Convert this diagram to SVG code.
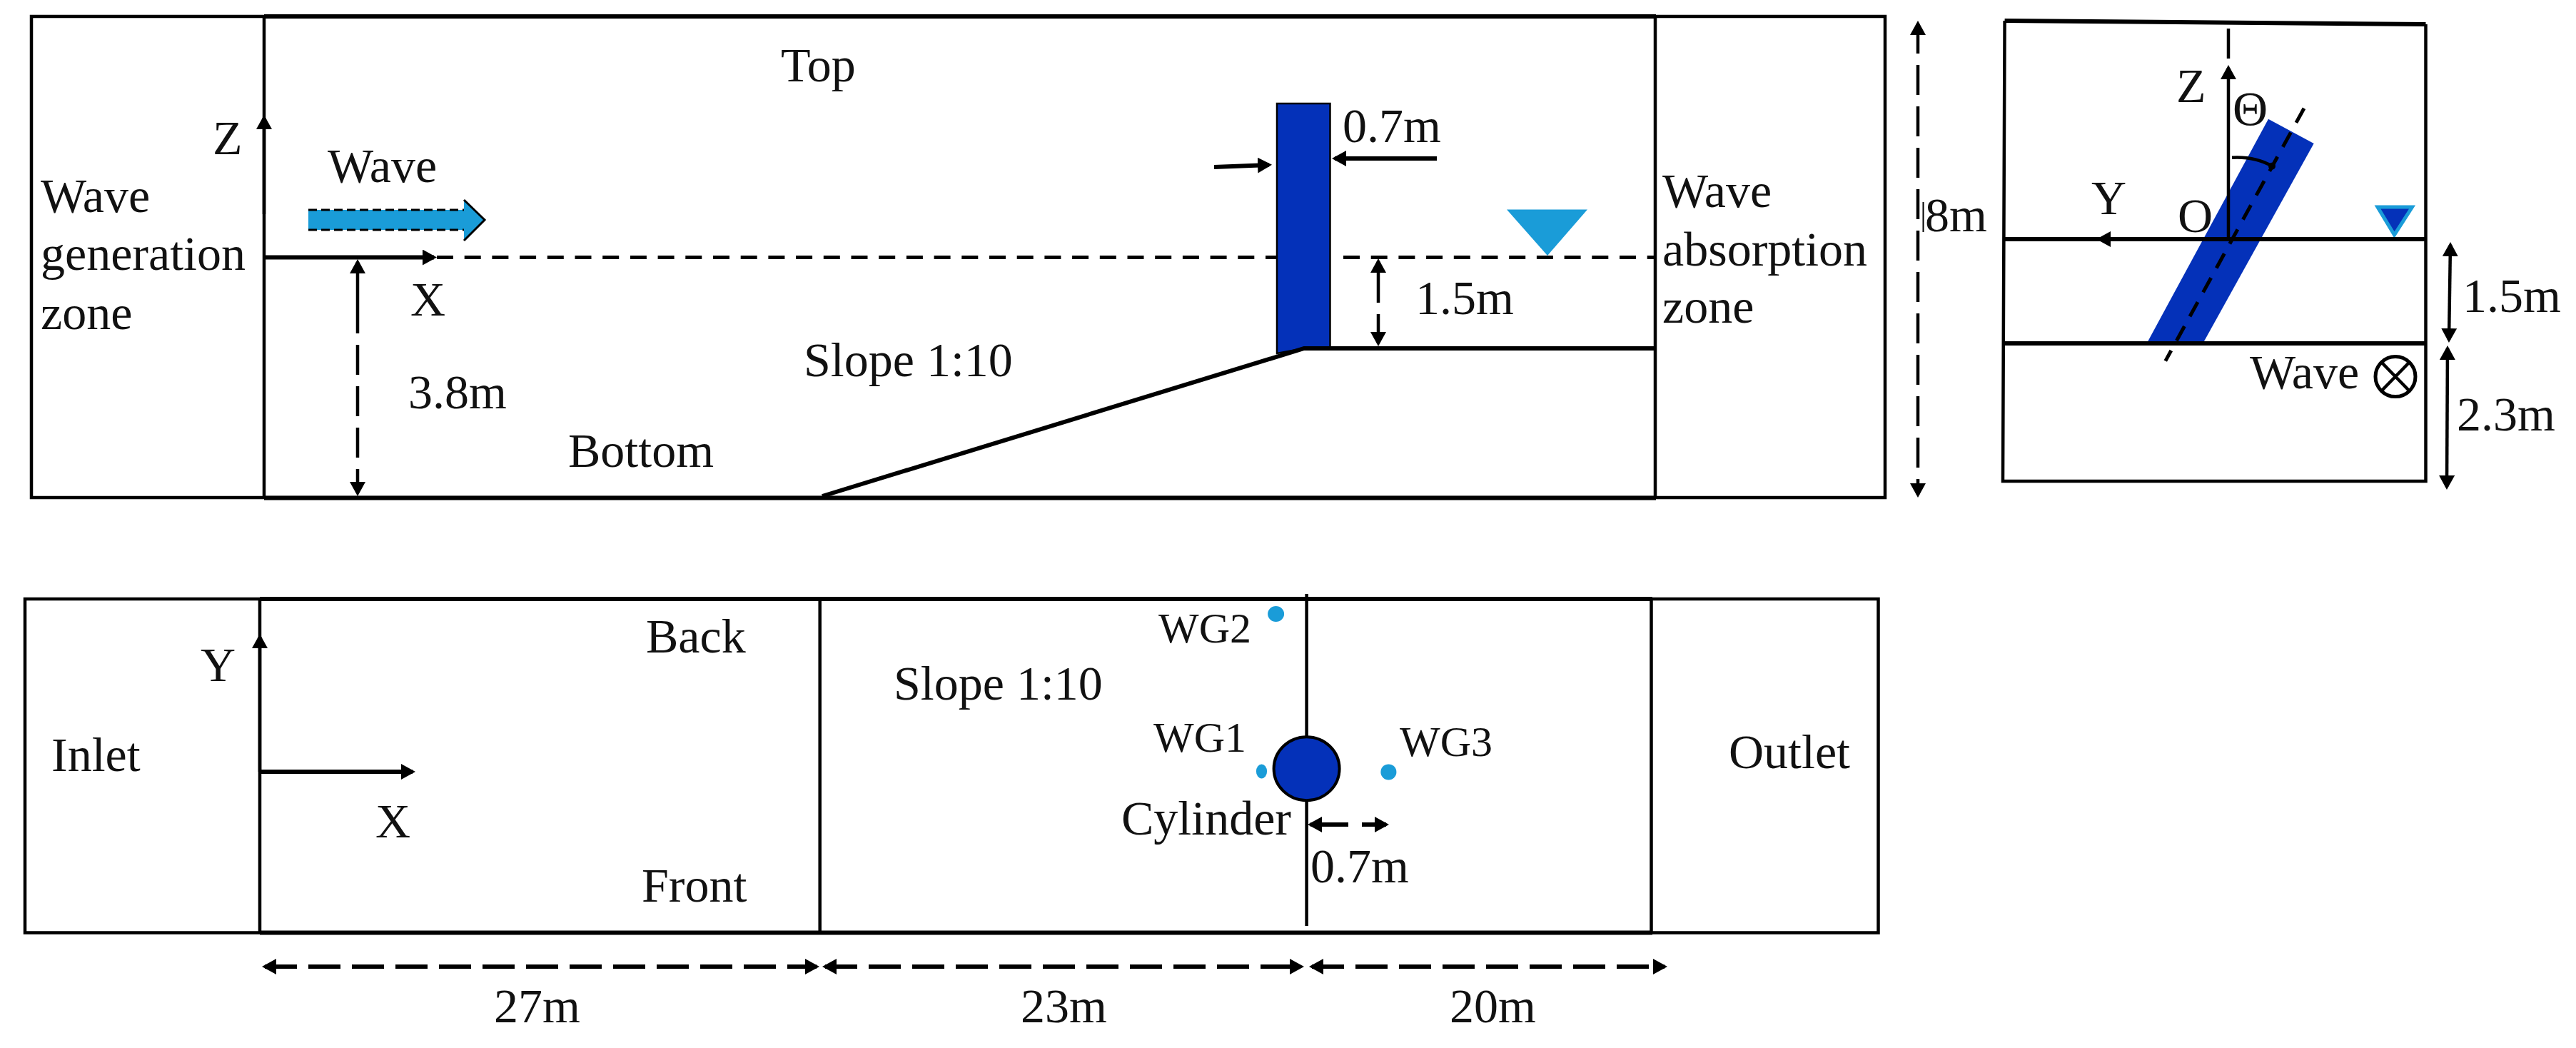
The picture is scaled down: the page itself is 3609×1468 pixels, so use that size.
<svg xmlns="http://www.w3.org/2000/svg" width="3609" height="1468" viewBox="0 0 3609 1468">
<style>
text{font-family:"Liberation Serif","Times New Roman",serif;font-size:68px;fill:#111}
.wg{font-size:60px}
.l{fill:none;stroke:#000;stroke-width:4.500}
.t{fill:none;stroke:#000;stroke-width:6}
.d{fill:none;stroke:#000;stroke-width:5;stroke-dasharray:23 15.700}
.ld{fill:none;stroke:#000;stroke-width:4.500;stroke-dasharray:42 16}
.h{fill:none;stroke:#000;stroke-width:6;stroke-dasharray:45 16}
.a{marker-end:url(#ah)}
.b{marker-start:url(#ah);marker-end:url(#ah)}
.blue{fill:#0431b9}
.cyan{fill:#1a9cd8}
</style>
<defs>
<marker id="ah" viewBox="0 0 20 22" refX="16" refY="11" markerWidth="20" markerHeight="22" markerUnits="userSpaceOnUse" orient="auto-start-reverse"><polygon points="0,0 20,11 0,22" fill="#000"/></marker>
</defs>
<rect width="3609" height="1468" fill="#fff"/>
<g id="side-view">
<rect class="l" x="44" y="23" width="2597" height="674"/>
<path class="t" d="M370 23H2320M370 697.500H2320"/>
<path class="l" d="M370 23V697M2319 23V697"/>
<polygon id="cyl-side" class="blue" stroke="#000" stroke-width="2.500" points="1789,145 1863.500,145 1863.500,487 1827,488 1789,495"/>
<path class="t" d="M1152 695L1827 488H2318"/>
<polygon id="water-mark" class="cyan" points="2111,293.500 2224,293.500 2168,358"/>
<polygon id="wave-arrow" class="cyan" points="432,294 650,294 650,280 679,308 650,337 650,322 432,322"/>
<path fill="none" stroke="#000" stroke-width="3" stroke-dasharray="12 6" d="M432 294H650M432 322H650"/>
<path fill="none" stroke="#000" stroke-width="3" d="M650 280L679 308L650 337"/>
</g>
<g id="section-view">
<path class="t" d="M2808.600 29L3398.500 34"/>
<path class="l" d="M2808.600 29L2806 674H3398.500V34"/>
<polygon id="cyl-tilted" class="blue" points="3178,166.700 3241.700,201 3087.700,478.500 3009,478.500"/>
<polygon id="water-mark-2" class="blue" stroke="#1a9cd8" stroke-width="5" points="3331,290 3379.500,290 3354.500,329"/>
<path class="t" d="M2808 335H3398M2806 481H3398"/>
<circle id="wave-out" cx="3356" cy="527.600" r="28" fill="none" stroke="#000" stroke-width="5"/>
<path class="l" d="M3337 508L3375 547M3375 508L3337 547"/>
</g>
<g id="plan-view">
<rect class="l" x="35" y="839" width="2596.500" height="467.500"/>
<path class="t" d="M364 839H2315M364 1306.500H2315"/>
<path class="l" d="M364 839V1306M1148.700 839V1306M2313.500 839V1306M1830.600 832V1297"/>
<ellipse id="cylinder" cx="1830.600" cy="1076.700" rx="46" ry="44.500" class="blue" stroke="#000" stroke-width="4"/>
<ellipse id="wg2" cx="1787.600" cy="860" rx="11.500" ry="11" class="cyan"/>
<ellipse id="wg1" cx="1767.500" cy="1080.500" rx="7.600" ry="10" class="cyan"/>
<ellipse id="wg3" cx="1945.400" cy="1081.400" rx="11" ry="11" class="cyan"/>
</g>
<g id="connectors">
<line class="l a" x1="370" y1="300" x2="370" y2="165"/>
<line class="t a" x1="370" y1="360.500" x2="608" y2="360.500"/>
<line class="d" x1="612" y1="360.500" x2="1789" y2="360.500"/>
<line class="d" x1="1882" y1="360.500" x2="2317" y2="360.500"/>
<line class="ld b" x1="501" y1="367" x2="501" y2="691" style="stroke-dasharray:100 16 42 16 42 16 42 16"/>
<line class="t a" x1="1701" y1="234" x2="1778" y2="231"/>
<line class="t a" x1="2013" y1="222" x2="1870" y2="222"/>
<line class="ld b" x1="1931" y1="366" x2="1931" y2="481" style="stroke-dasharray:58 16"/>
<line class="ld b" x1="2687" y1="33" x2="2687" y2="693"/>
<line x1="2694.500" y1="283" x2="2694.500" y2="325" stroke="#000" stroke-width="2"/>
<line class="l a" x1="3122" y1="335" x2="3122" y2="95"/>
<path class="ld" d="M3122 40V89"/>
<line class="l a" x1="3122" y1="335" x2="2941" y2="335"/>
<line class="d" x1="3228" y1="151.700" x2="3033.800" y2="505.600"/>
<path class="l" d="M3127 220.700Q3160 219 3183 232.700"/>
<circle cx="3183" cy="232.700" r="5" fill="#000"/>
<line class="l b" x1="3433" y1="343" x2="3431" y2="476"/>
<line class="l b" x1="3429" y1="488" x2="3428" y2="682"/>
<line class="l a" x1="364" y1="1081" x2="364" y2="892"/>
<line class="t a" x1="364" y1="1081" x2="578" y2="1081"/>
<line class="t a" x1="1889" y1="1155" x2="1836" y2="1155"/>
<line class="t a" x1="1908" y1="1155" x2="1942" y2="1155"/>
<line class="h b" x1="371" y1="1354" x2="1144" y2="1354"/>
<line class="h b" x1="1156" y1="1354" x2="1823" y2="1354"/>
<line class="h b" x1="1838" y1="1354" x2="2332" y2="1354"/>
</g>
<g id="labels">
<text x="57" y="297">Wave</text>
<text x="57" y="378">generation</text>
<text x="57" y="461">zone</text>
<text x="298" y="216">Z</text>
<text x="459" y="255">Wave</text>
<text x="575" y="442">X</text>
<text x="572" y="572">3.8m</text>
<text x="796" y="654">Bottom</text>
<text x="1094" y="114">Top</text>
<text x="1126" y="527">Slope 1:10</text>
<text x="1881" y="199">0.7m</text>
<text x="1983" y="440">1.5m</text>
<text x="2329" y="290">Wave</text>
<text x="2329" y="372">absorption</text>
<text x="2329" y="452">zone</text>
<text x="2697" y="324">8m</text>
<text x="3049" y="143">Z</text>
<text x="3128" y="175">Θ</text>
<text x="2930" y="300">Y</text>
<text x="3051" y="325">O</text>
<text x="3450" y="437">1.5m</text>
<text x="3442" y="603">2.3m</text>
<text x="3152" y="544">Wave</text>
<text x="281" y="954">Y</text>
<text x="72" y="1080">Inlet</text>
<text x="526" y="1173">X</text>
<text x="905" y="914">Back</text>
<text x="899" y="1263">Front</text>
<text x="1252" y="980">Slope 1:10</text>
<text class="wg" x="1623" y="900">WG2</text>
<text class="wg" x="1616" y="1053">WG1</text>
<text class="wg" x="1961" y="1059">WG3</text>
<text x="2422" y="1076">Outlet</text>
<text x="1571" y="1169">Cylinder</text>
<text x="1836" y="1236">0.7m</text>
<text x="692" y="1432">27m</text>
<text x="1430" y="1432">23m</text>
<text x="2031" y="1432">20m</text>
</g>
</svg>
